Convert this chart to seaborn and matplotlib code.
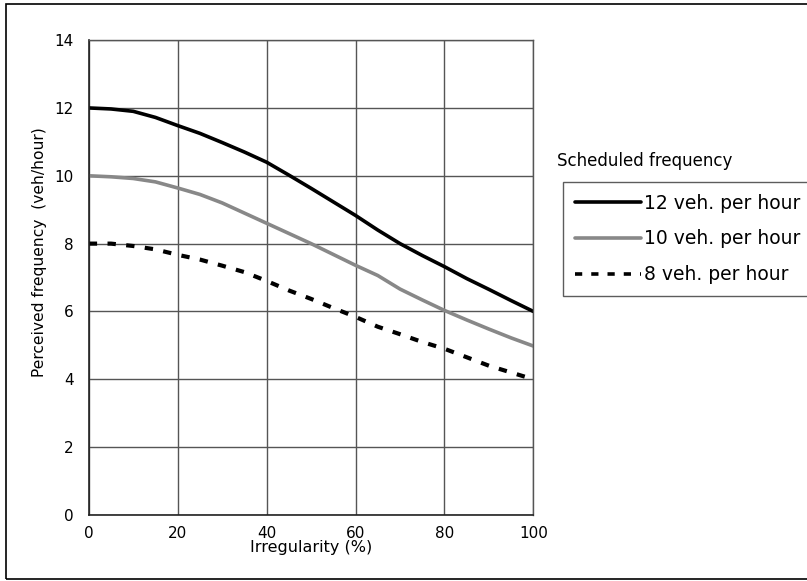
import numpy as np
import pandas as pd
import matplotlib
matplotlib.use("Agg")
import matplotlib.pyplot as plt
import seaborn as sns
from matplotlib.patches import Rectangle

# values
irregularity = [0, 5, 10, 15, 20, 25, 30, 35, 40, 45, 50, 55, 60, 65, 70, 75, 80, 85, 90, 95, 100]
freq_12 = [12.0, 11.97, 11.9, 11.72, 11.48, 11.25, 10.98, 10.7, 10.4, 10.02, 9.63,
           9.23, 8.83, 8.4, 8.0, 7.65, 7.32, 6.97, 6.65, 6.32, 6.0]
freq_10 = [10.0, 9.97, 9.92, 9.82, 9.64, 9.45, 9.2, 8.9, 8.6, 8.3, 8.0,
           7.68, 7.36, 7.06, 6.66, 6.34, 6.03, 5.75, 5.48, 5.22, 4.98]
freq_8 = [8.0, 8.0, 7.93, 7.83, 7.67, 7.53, 7.35, 7.16, 6.9, 6.62, 6.37,
          6.1, 5.84, 5.55, 5.33, 5.1, 4.9, 4.65, 4.4, 4.2, 4.0]
series_names = ['12 veh. per hour', '10 veh. per hour', '8 veh. per hour']

df = pd.DataFrame({
    'irregularity': irregularity * 3,
    'perceived': freq_12 + freq_10 + freq_8,
    'scheduled': [s for s in series_names for _ in irregularity],
})

sns.set_style("white")
plt.rcParams['font.family'] = ['DejaVu Sans']
plt.rcParams['text.color'] = 'black'
plt.rcParams['axes.labelcolor'] = 'black'
plt.rcParams['xtick.color'] = 'black'
plt.rcParams['ytick.color'] = 'black'

fig = plt.figure(figsize=(8.07, 5.81), dpi=100)
ax = fig.add_axes([0.110, 0.1136, 0.551, 0.8174])

palette = {series_names[0]: 'black', series_names[1]: '#888888', series_names[2]: 'black'}
dashes = {series_names[0]: '', series_names[1]: '', series_names[2]: (2, 2.5)}
sns.lineplot(data=df, x='irregularity', y='perceived', hue='scheduled', style='scheduled',
             palette=palette, dashes=dashes, linewidth=2.6, ax=ax)

for ln, lw in zip(ax.get_lines(), [2.6, 2.6, 3.0]):
    ln.set_linewidth(lw)

ax.set_xlim(0, 100)
ax.set_ylim(0, 14)
ax.set_xticks(range(0, 101, 20))
ax.set_xticks(range(10, 101, 20), minor=True)
ax.set_yticks(range(0, 15, 2))
ax.grid(True, which='major', color='#555555', linewidth=1)
ax.set_axisbelow(True)
for s in ['top', 'right']:
    ax.spines[s].set_color('#555555')
    ax.spines[s].set_linewidth(1)
for s in ['left', 'bottom']:
    ax.spines[s].set_color('#222222')
    ax.spines[s].set_linewidth(1.2)
ax.tick_params(axis='y', which='major', direction='out', length=5, width=1,
               color='#333333', labelsize=11, pad=6)
ax.tick_params(axis='x', which='major', direction='inout', length=8, width=1,
               color='#333333', labelsize=11, pad=4)
ax.tick_params(axis='x', which='minor', direction='in', length=3, width=1, color='#333333')
ax.set_xlabel('Irregularity (%)', fontsize=11.5, labelpad=-1)
ax.set_ylabel('Perceived frequency  (veh/hour)', fontsize=11.2)
ax.yaxis.set_label_coords(-0.094, 0.553)

handles, labels = ax.get_legend_handles_labels()
leg = ax.legend(handles, labels, loc='upper left', bbox_to_anchor=(563 / 807, 1 - 182 / 581),
                bbox_transform=fig.transFigure, fontsize=13.5, frameon=True, fancybox=False,
                edgecolor='#333333', handlelength=3.55, handletextpad=0.15, labelspacing=0.9,
                borderpad=0.62, borderaxespad=0)
leg.get_frame().set_linewidth(1)
fig.text(557 / 807, 1 - 161 / 581, 'Scheduled frequency', fontsize=12, va='center', ha='left')

# outer frame around the whole chart
fig.patches.append(Rectangle((6 / 807, 2 / 581), 1.0, 1 - 6 / 581, transform=fig.transFigure,
                             fill=False, edgecolor='black', linewidth=1.2))

fig.savefig('out.png', dpi=100)
